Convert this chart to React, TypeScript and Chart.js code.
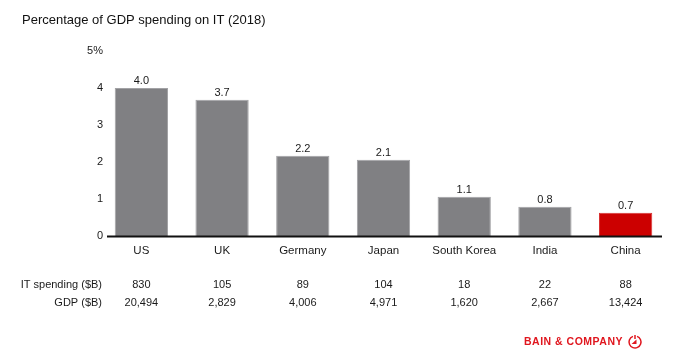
import React, { useEffect, useRef } from "react";
import { Chart, registerables } from "chart.js";

Chart.register(...registerables);

const categories = ["US", "UK", "Germany", "Japan", "South Korea", "India", "China"];
const shareOfGdp = [4.0, 3.68, 2.17, 2.06, 1.06, 0.79, 0.63];
const shareLabels = ["4.0", "3.7", "2.2", "2.1", "1.1", "0.8", "0.7"];
const itSpending = ["830", "105", "89", "104", "18", "22", "88"];
const gdpValues = ["20,494", "2,829", "4,006", "4,971", "1,620", "2,667", "13,424"];
const rowLabels = ["IT spending ($B)", "GDP ($B)"];
const yTickValues = [0, 1, 2, 3, 4, 5];
const yTickLabels = ["0", "1", "2", "3", "4", "5%"];
const yMax = 5;

const FONT = '"Liberation Sans", Arial, sans-serif';
const GREY = "#808083";
const RED = "#cc0000";
const TEXT = "#1a1a1a";

const extrasPlugin = {
  id: "extras",
  afterDraw(chart: any) {
    const ctx = chart.ctx as CanvasRenderingContext2D;
    const area = chart.chartArea;
    const meta = chart.getDatasetMeta(0);
    const yScale = chart.scales.y;
    ctx.save();

    // title
    ctx.fillStyle = "#111";
    ctx.font = `13px ${FONT}`;
    ctx.textAlign = "left";
    ctx.textBaseline = "middle";
    ctx.fillText("Percentage of GDP spending on IT (2018)", 22, 20);

    // y tick labels
    ctx.fillStyle = TEXT;
    ctx.font = `11px ${FONT}`;
    ctx.textAlign = "right";
    ctx.textBaseline = "middle";
    yTickValues.forEach((v, i) => {
      ctx.fillText(yTickLabels[i], 103, yScale.getPixelForValue(v));
    });

    // axis line
    ctx.strokeStyle = "#111";
    ctx.lineWidth = 2;
    ctx.beginPath();
    ctx.moveTo(area.left + 6, area.bottom + 0.5);
    ctx.lineTo(area.right - 4, area.bottom + 0.5);
    ctx.stroke();

    // value labels
    ctx.textAlign = "center";
    ctx.textBaseline = "alphabetic";
    meta.data.forEach((bar: any, i: number) => {
      ctx.fillText(shareLabels[i], bar.x, bar.y - 4);
    });

    // table rows
    const rows = [itSpending, gdpValues];
    const rowY = [285, 303];
    rows.forEach((row, r) => {
      ctx.textBaseline = "middle";
      ctx.textAlign = "right";
      ctx.fillText(rowLabels[r], 102, rowY[r]);
      ctx.textAlign = "center";
      meta.data.forEach((bar: any, i: number) => {
        ctx.fillText(row[i], bar.x, rowY[r]);
      });
    });

    // logo
    ctx.fillStyle = "#e0161e";
    ctx.font = `bold 10.5px ${FONT}`;
    (ctx as any).letterSpacing = "0.5px";
    ctx.textAlign = "left";
    ctx.textBaseline = "middle";
    ctx.fillText("BAIN & COMPANY", 524, 342);
    (ctx as any).letterSpacing = "0px";
    ctx.strokeStyle = "#e0161e";
    ctx.lineWidth = 1.5;
    ctx.beginPath();
    ctx.arc(635, 342, 6, -Math.PI / 2 + 0.35, 1.5 * Math.PI - 0.35);
    ctx.stroke();
    ctx.beginPath();
    ctx.moveTo(635, 335);
    ctx.lineTo(635, 339);
    ctx.stroke();
    ctx.beginPath();
    ctx.moveTo(631.5, 344);
    ctx.lineTo(636.5, 339.5);
    ctx.lineTo(636.5, 344);
    ctx.closePath();
    ctx.fill();

    ctx.restore();
  },
};

export default function App() {
  const ref = useRef<HTMLCanvasElement | null>(null);

  useEffect(() => {
    if (!ref.current) return;
    const chart = new Chart(ref.current, {
      type: "bar",
      data: {
        labels: categories,
        datasets: [
          {
            data: shareOfGdp,
            backgroundColor: categories.map((c) => (c === "China" ? RED : GREY)),
            borderColor: categories.map((c) => (c === "China" ? "#d83030" : "#a2a2a5")),
            borderWidth: 1,
            barPercentage: 0.66,
            categoryPercentage: 1,
          },
        ],
      },
      options: {
        animation: false,
        responsive: true,
        maintainAspectRatio: false,
        layout: { padding: { top: 51, bottom: 89, left: 0, right: 14 } },
        plugins: {
          legend: { display: false },
          title: { display: false },
          tooltip: { enabled: false },
        },
        scales: {
          x: {
            grid: { display: false, drawTicks: false },
            border: { display: false },
            ticks: { color: TEXT, font: { family: FONT, size: 11.5 }, padding: 8 },
            afterFit: (scale: any) => {
              scale.height = 30;
            },
          },
          y: {
            min: 0,
            max: yMax,
            grid: { display: false, drawTicks: false },
            border: { display: false },
            ticks: { display: false, stepSize: 1 },
            afterFit: (scale: any) => {
              scale.width = 101;
            },
          },
        },
      },
      plugins: [extrasPlugin],
    });
    return () => chart.destroy();
  }, []);

  return (
    <div style={{ position: "fixed", left: 0, top: 0, width: 680, height: 355, background: "#fff" }}>
      <canvas ref={ref} />
    </div>
  );
}
